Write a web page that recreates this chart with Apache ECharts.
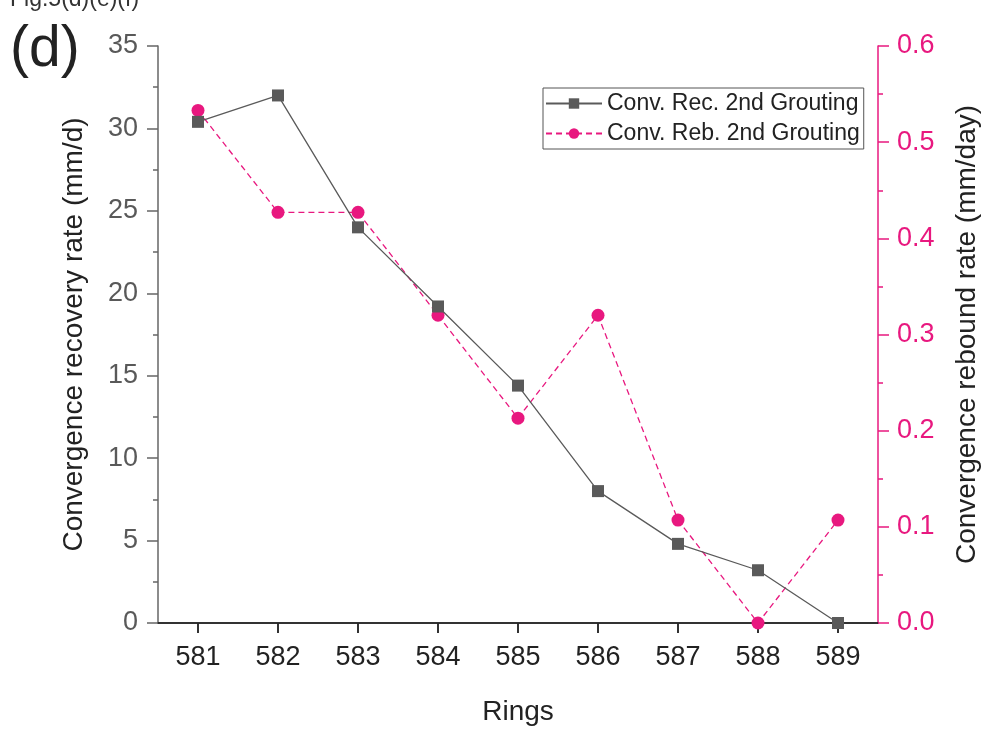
<!DOCTYPE html>
<html>
<head>
<meta charset="utf-8">
<script src="https://cdn.jsdelivr.net/npm/echarts@6/dist/echarts.min.js"></script>
<style>
html,body{margin:0;padding:0;background:#fff;overflow:hidden;}
#chart{width:989px;height:731px;}
</style>
</head>
<body>
<div id="chart"></div>
<script>
var rings = ['581','582','583','584','585','586','587','588','589'];
var recoveryRate = [30.4, 32.0, 24.0, 19.2, 14.4, 8.0, 4.8, 3.2, 0.0];
var reboundRate = [0.533, 0.427, 0.427, 0.320, 0.213, 0.320, 0.107, 0.0, 0.107];
var leftTicks = [0, 5, 10, 15, 20, 25, 30, 35];
var rightTicks = [0.0, 0.1, 0.2, 0.3, 0.4, 0.5, 0.6];

var FONT = '"Liberation Sans", Arial, sans-serif';
var GRAY = '#5a5a5a';
var PINK = '#e8187f';

var chart = echarts.init(document.getElementById('chart'), null, {renderer: 'canvas'});
chart.setOption({
  backgroundColor: '#ffffff',
  animation: false,
  textStyle: {fontFamily: FONT},
  grid: {left: 158, right: 107, top: 46, bottom: 102, containLabel: false},
  legend: {
    orient: 'vertical',
    left: 543, top: 88,
    padding: [4, 4, 4, 2],
    itemWidth: 56, itemHeight: 13, itemGap: 7,
    borderColor: '#555', borderWidth: 1,
    textStyle: {fontFamily: FONT, fontSize: 23, color: '#222', padding: [0, 0, 0, 0]},
    data: ['Conv. Rec. 2nd Grouting', 'Conv. Reb. 2nd Grouting']
  },
  graphic: [
    {type: 'text', left: 10, top: 22, style: {text: '(d)', font: '57px ' + FONT, fill: '#222'}},
    {type: 'text', left: 10, top: -12, style: {text: 'Fig.5(d)(e)(f)', font: '23px ' + FONT, fill: '#333'}}
  ],
  xAxis: [
    {
      type: 'category', data: rings, position: 'bottom', boundaryGap: true,
      name: 'Rings', nameLocation: 'middle', nameGap: 75,
      nameTextStyle: {fontSize: 28, color: '#222', fontFamily: FONT},
      axisLine: {show: true, lineStyle: {color: '#333', width: 1.5}},
      axisTick: {show: true, alignWithLabel: true, inside: false, length: 10, lineStyle: {color: '#333', width: 1.5}},
      axisLabel: {fontSize: 27, color: '#222', margin: 21, fontFamily: FONT},
      splitLine: {show: false}
    },
    {
      type: 'category', data: rings, position: 'top', boundaryGap: true,
      axisLine: {show: true, lineStyle: {color: '#222', width: 1.5}},
      axisTick: {show: true, alignWithLabel: true, inside: true, length: 10, lineStyle: {color: '#222', width: 1.5}},
      axisLabel: {show: false},
      splitLine: {show: false}
    }
  ],
  yAxis: [
    {
      type: 'value', position: 'left', min: 0, max: 35, interval: 5,
      name: 'Convergence recovery rate (mm/d)', nameLocation: 'middle', nameGap: 70,
      nameTextStyle: {fontSize: 28, color: '#222', fontFamily: FONT},
      axisLine: {show: true, lineStyle: {color: '#666', width: 1.5}},
      axisTick: {show: true, inside: false, length: 11, lineStyle: {color: '#666', width: 1.5}},
      minorTick: {show: true, splitNumber: 2, length: 5, lineStyle: {color: '#666', width: 1.5}},
      axisLabel: {fontSize: 27, color: '#595959', margin: 20, fontFamily: FONT},
      splitLine: {show: false}
    },
    {
      type: 'value', position: 'right', min: 0, max: 0.6, interval: 0.1,
      name: 'Convergence rebound rate (mm/day)', nameLocation: 'middle', nameGap: 75,
      nameRotate: 90,
      nameTextStyle: {fontSize: 28, color: '#222', fontFamily: FONT},
      axisLine: {show: true, lineStyle: {color: PINK, width: 1.5}},
      axisTick: {show: true, inside: false, length: 11, lineStyle: {color: PINK, width: 1.5}},
      minorTick: {show: true, splitNumber: 2, length: 5, lineStyle: {color: PINK, width: 1.5}},
      axisLabel: {fontSize: 27, color: PINK, margin: 19, fontFamily: FONT,
        formatter: function (v) { return v.toFixed(1); }},
      splitLine: {show: false}
    }
  ],
  series: [
    {
      name: 'Conv. Reb. 2nd Grouting', type: 'line', xAxisIndex: 0, yAxisIndex: 1,
      data: reboundRate, symbol: 'circle', symbolSize: 13,
      itemStyle: {color: PINK},
      lineStyle: {color: PINK, width: 1.3, type: [6, 4]},
      z: 2
    },
    {
      name: 'Conv. Rec. 2nd Grouting', type: 'line', xAxisIndex: 0, yAxisIndex: 0,
      data: recoveryRate, symbol: 'rect', symbolSize: 12,
      itemStyle: {color: GRAY},
      lineStyle: {color: GRAY, width: 1.3},
      z: 3
    }
  ]
});
</script>
</body>
</html>
